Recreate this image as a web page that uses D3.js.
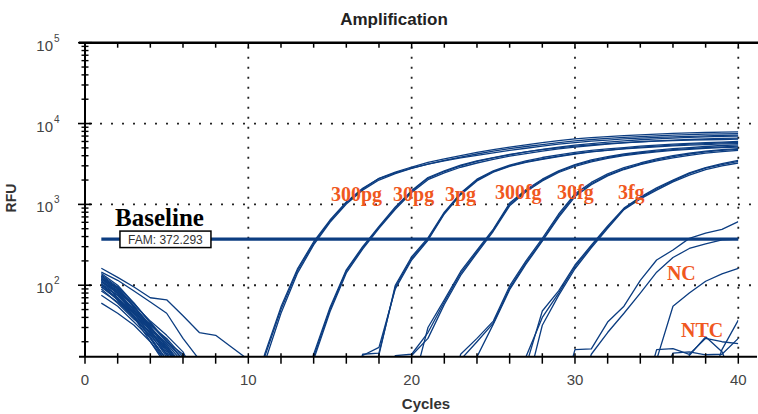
<!DOCTYPE html>
<html><head><meta charset="utf-8">
<script src="https://cdn.jsdelivr.net/npm/d3@7"></script>
<style>html,body{margin:0;padding:0;background:#fff;} svg{display:block;}</style>
</head><body><svg id="chart" width="758" height="414"></svg>
<script>
// ---- data ----
const cycles = [1,2,3,4,5,6,7,8,9,10,11,12,13,14,15,16,17,18,19,20,21,22,23,24,25,26,27,28,29,30,31,32,33,34,35,36,37,38,39,40];

const rfu300pg = [
 [120,95,60,35,20,12,4,2,2,2, 13,50,150,330,620,1050,1550,2100,2500,2900, 3300,3650,4000,4400,4750,5100,5450,5800,6150,6450, 6700,6900,7100,7250,7400,7550,7650,7750,7850,7900],
 [130,90,55,30,16,8,3,2,2,2, 11,45,140,315,600,1010,1500,2000,2400,2780, 3150,3500,3850,4200,4550,4900,5200,5500,5800,6100, 6350,6550,6750,6900,7050,7200,7300,7400,7450,7500],
 [110,85,55,32,22,13,5,2,2,2, 14,54,158,345,640,1070,1580,2080,2450,2800, 3150,3450,3750,4050,4350,4650,4950,5250,5550,5800, 6050,6250,6450,6600,6750,6850,6950,7050,7150,7200]
];
const rfu30pg = [
 [125,80,45,25,13,6,2,2,2,2, 2,2,3,13,50,150,290,520,900,1450, 2100,2550,3000,3400,3750,4100,4450,4800,5100,5400, 5650,5900,6100,6300,6450,6600,6750,6850,6950,7000],
 [100,75,50,28,15,7,2,2,2,2, 2,2,2,12,47,142,280,505,870,1400, 2020,2450,2880,3250,3600,3950,4250,4550,4850,5100, 5350,5550,5750,5950,6100,6250,6350,6450,6550,6600],
 [115,70,42,22,11,4,2,2,2,2, 2,2,3,14,53,155,300,535,930,1480, 2150,2600,3050,3450,3800,4150,4450,4750,5000,5250, 5450,5650,5800,5950,6050,6150,6250,6300,6350,6400]
];
const rfu3pg = [
 [95,70,40,24,14,6,2,2,2,2, 2,2,2,2,2,3,14,14.5,95,215, 372,780,1350,2000,2550,3000,3350,3650,3950,4250, 4500,4700,4900,5100,5250,5400,5550,5650,5750,5850],
 [135,95,52,30,18,9,3,2,2,2, 2,2,2,2,2,2,13.5,17,90,205, 360,760,1320,1950,2500,2950,3300,3600,3900,4200, 4450,4650,4850,5000,5150,5300,5400,5500,5600,5650],
 [105,65,40,20,10,4,2,2,2,2, 2,2,2,2,2,2,4,13.8,100,225, 385,800,1380,2050,2600,3050,3450,3800,4100,4400, 4650,4850,5050,5250,5400,5550,5700,5800,5900,6000]
];
const rfu300fg = [
 [90,60,38,26,17,9,3,2,2,2, 2,2,2,2,2,2,2,3,13.5,14, 26,62,140,260,480,1000,1480,2000,2550,3050, 3450,3800,4100,4350,4550,4750,4900,5050,5150,5250],
 [120,85,48,27,14,7,2,2,2,2, 2,2,2,2,2,2,2,2,3,13.5, 22,58,132,250,465,960,1430,1950,2480,2950, 3350,3700,4000,4250,4450,4650,4800,4950,5050,5100],
 [75,55,35,22,12,5,2,2,2,2, 2,2,2,2,2,2,2,2,2,5, 30,66,148,272,495,1040,1520,2050,2600,3100, 3550,3900,4200,4450,4700,4900,5050,5200,5350,5450]
];
const rfu30fg = [
 [60,45,32,20,11,5,2,2,2,2, 2,2,2,2,2,2,2,2,2,2, 2,3,12,20,34,92,190,360,720,1300, 1800,2300,2750,3150,3550,3900,4200,4450,4650,4800],
 [110,80,45,33,20,14,5,2,2,2, 2,2,2,2,2,2,2,2,2,2, 2,2,3,13,33,88,182,350,690,1250, 1750,2250,2700,3100,3450,3750,4050,4300,4500,4650],
 [100,68,45,25,16,9,3,2,2,2, 2,2,2,2,2,2,2,2,2,2, 2,2,14,22,36,98,200,380,760,1350, 1870,2380,2850,3250,3650,4000,4300,4550,4750,4900]
];
const rfu3fg = [
 [125,88,58,36,24,15,6,2,2,2, 2,2,2,2,2,2,2,2,2,2, 2,2,2,2,2,3,13,40,80,170, 300,520,880,1200,1550,1950,2400,2800,3100,3400],
 [85,62,40,23,12,5,2,2,2,2, 2,2,2,2,2,2,2,2,2,2, 2,2,2,2,2,2,5,32,75,160, 290,505,860,1170,1500,1900,2300,2700,3000,3250],
 [140,100,60,34,21,12,4,2,2,2, 2,2,2,2,2,2,2,2,2,2, 2,2,2,2,2,2,10,48,85,178, 312,540,900,1230,1600,2000,2450,2850,3200,3500]
];
const rfuNC = [
 [145,115,85,62,45,22,12,3,2,2, 2,2,2,2,2,2,2,2,2,2, 2,2,2,2,2,2,2,2,3,16, 16.3,35,55,115,205,273,380,440,490,612],
 [115,78,46,30,19,11,3,2,2,2, 2,2,2,2,2,2,2,2,2,2, 2,2,2,2,2,2,2,2,2,3, 14,26,45,80,145,220,285,325,365,372],
 [95,66,41,26,16,8,2,2,2,2, 2,2,2,2,2,2,2,2,2,2, 2,2,2,2,2,2,2,2,2,2, 2,2,2,3,12,55,80,112,138,162]
];
const rfuNTC = [
 [162,125,95,70,66,42,26,24,17,12, 5,2,2,2,2,2,2,2,2,2, 2,2,2,2,2,2,2,2,2,2, 2,2,2,3,16,16.4,14,22,20,19],
 [130,92,54,31,17,9,3,2,2,2, 2,2,2,2,2,2,2,2,2,2, 2,2,2,2,2,2,2,2,2,2, 2,2,2,2,2,3,13.5,23,15,5],
 [105,75,44,28,14,6,2,2,2,2, 2,2,2,2,2,2,2,2,2,2, 2,2,2,2,2,2,2,2,2,2, 2,2,2,2,2,2,2,4,16,37],
 [120,82,50,29,18,10,4,2,2,2, 2,2,2,2,2,2,2,2,2,2, 2,2,2,2,2,2,2,2,2,2, 2,2,2,2,5,14.5,15,13.8,14,22]
];

const xTicks = [0,10,20,30,40];
const xMinorTicks = [0,2,4,6,8,10,12,14,16,18,20,22,24,26,28,30,32,34,36,38,40];
const yDecades = [100,1000,10000,100000];
const yExponents = ["2","3","4","5"];
const threshold = 372.293;
const thresholdLabel = "FAM: 372.293";

// annotation text and anchor in data units (cycle, RFU)
const groupLabels = ["300pg","30pg","3pg","300fg","30fg","3fg","NC","NTC"];
const groupLabelCycle = [15.06,18.86,22.04,25.10,28.90,32.63,35.63,36.49];
const groupLabelRFU = [1102,1102,1102,1166,1166,1166,116,23.2];

// ---- chart ----
const W = 758, H = 414;
const BLUE = "#0c3d81";
const svg = d3.select("#chart");
svg.append("rect").attr("width", W).attr("height", H).attr("fill", "#fff");

const x = d3.scaleLinear().domain([0, 40]).range([85, 738.3]);
const y = d3.scaleLog().domain([13.06, 1e5]).range([356.7, 42.7]);
const x0 = x(0), x1 = x(40), yTop = y(1e5), yBot = y(13.06);

svg.append("defs").append("clipPath").attr("id", "plotclip")
  .append("rect").attr("x", x0).attr("y", yTop).attr("width", x1 - x0).attr("height", yBot - yTop);

// grid
const grid = svg.append("g");
grid.selectAll("line.v").data(xTicks.filter(d => d > 0)).join("line")
  .attr("x1", d => x(d)).attr("x2", d => x(d)).attr("y1", yTop + 4).attr("y2", yBot)
  .attr("stroke", "#222").attr("stroke-width", 1.8).attr("stroke-dasharray", "2,8");
grid.selectAll("line.h").data(yDecades.filter(d => d < 1e5)).join("line")
  .attr("x1", x0 + 4).attr("x2", W).attr("y1", d => y(d)).attr("y2", d => y(d))
  .attr("stroke", "#222").attr("stroke-width", 1.8).attr("stroke-dasharray", "2,9");

// curves
const wells = [].concat(rfu300pg, rfu30pg, rfu3pg, rfu300fg, rfu30fg, rfu3fg, rfuNC, rfuNTC);
const line = d3.line().x((d, i) => x(cycles[i])).y(d => y(d));
svg.append("g").attr("clip-path", "url(#plotclip)")
  .selectAll("path").data(wells).join("path")
  .attr("d", line).attr("fill", "none").attr("stroke", BLUE)
  .attr("stroke-width", 1.3).attr("stroke-linejoin", "round");

// axes
const ax = svg.append("g").attr("stroke", "#000");
ax.append("line").attr("x1", x0).attr("x2", x0).attr("y1", yTop).attr("y2", yBot).attr("stroke-width", 2);
ax.append("line").attr("x1", 79).attr("x2", W).attr("y1", yTop).attr("y2", yTop).attr("stroke-width", 2.5);
ax.append("line").attr("x1", 79).attr("x2", 757).attr("y1", yBot).attr("y2", yBot).attr("stroke-width", 2);
const minorY = y.ticks().filter(d => d >= 13.06 && d <= 1e5 && !yDecades.includes(d));
ax.selectAll("line.ym").data(minorY).join("line")
  .attr("x1", x0 - 3.5).attr("x2", x0 + 3.5).attr("y1", d => y(d)).attr("y2", d => y(d)).attr("stroke-width", 1.4);
ax.selectAll("line.yM").data(yDecades).join("line")
  .attr("x1", x0 - 7).attr("x2", x0 + 7).attr("y1", d => y(d)).attr("y2", d => y(d)).attr("stroke-width", 1.6);
ax.selectAll("line.xb").data(xMinorTicks).join("line")
  .attr("x1", d => x(d)).attr("x2", d => x(d)).attr("y1", yBot - 3.5).attr("y2", yBot + 7).attr("stroke-width", 1.5);
ax.selectAll("line.xt").data(xMinorTicks).join("line")
  .attr("x1", d => x(d)).attr("x2", d => x(d)).attr("y1", yTop).attr("y2", yTop + 5).attr("stroke-width", 1.5);

// tick labels
const SANS = "'Liberation Sans', Arial, sans-serif";
const SERIF = "'Liberation Serif', 'Times New Roman', serif";
svg.append("g").selectAll("text").data(xTicks).join("text")
  .attr("x", d => x(d)).attr("y", 385).attr("text-anchor", "middle")
  .attr("font-family", SANS).attr("font-size", 15).attr("fill", "#444").text(d => d);
const yl = svg.append("g").attr("font-family", SANS).attr("fill", "#444");
yl.selectAll("text.b").data(yDecades).join("text")
  .attr("x", 53).attr("y", d => y(d) + 8).attr("text-anchor", "end").attr("font-size", 15).text("10");
yl.selectAll("text.e").data(yDecades).join("text")
  .attr("x", 54).attr("y", d => y(d) - 1).attr("font-size", 10).text((d, i) => yExponents[i]);

// titles
svg.append("text").attr("x", 394).attr("y", 25).attr("text-anchor", "middle")
  .attr("font-family", SANS).attr("font-weight", "bold").attr("font-size", 17).attr("fill", "#222").text("Amplification");
svg.append("text").attr("x", 426).attr("y", 409).attr("text-anchor", "middle")
  .attr("font-family", SANS).attr("font-weight", "bold").attr("font-size", 15).attr("fill", "#333").text("Cycles");
svg.append("text").attr("transform", "translate(16,198) rotate(-90)").attr("text-anchor", "middle")
  .attr("font-family", SANS).attr("font-weight", "bold").attr("font-size", 14).attr("fill", "#333").text("RFU");

// threshold line and box
const yT = y(threshold);
svg.append("line").attr("x1", x(1)).attr("x2", x(40)).attr("y1", yT).attr("y2", yT)
  .attr("stroke", BLUE).attr("stroke-width", 3.3);
svg.append("rect").attr("x", x(2.14)).attr("y", yT - 8).attr("width", 91).attr("height", 16.5)
  .attr("fill", "#fff").attr("stroke", "#000").attr("stroke-width", 1.5);
svg.append("text").attr("x", x(2.14) + 45.5).attr("y", yT + 4.5).attr("text-anchor", "middle")
  .attr("font-family", SANS).attr("font-size", 12).attr("fill", "#333").text(thresholdLabel);
svg.append("text").attr("x", x(1.84)).attr("y", y(533))
  .attr("font-family", SERIF).attr("font-weight", "bold").attr("font-size", 25).attr("fill", "#000").text("Baseline");

// orange labels
svg.append("g").selectAll("text").data(groupLabels).join("text")
  .attr("x", (d, i) => x(groupLabelCycle[i])).attr("y", (d, i) => y(groupLabelRFU[i]))
  .attr("font-family", SERIF).attr("font-weight", "bold").attr("font-size", 20).attr("fill", "#f0581f").text(d => d);
</script></body></html>
